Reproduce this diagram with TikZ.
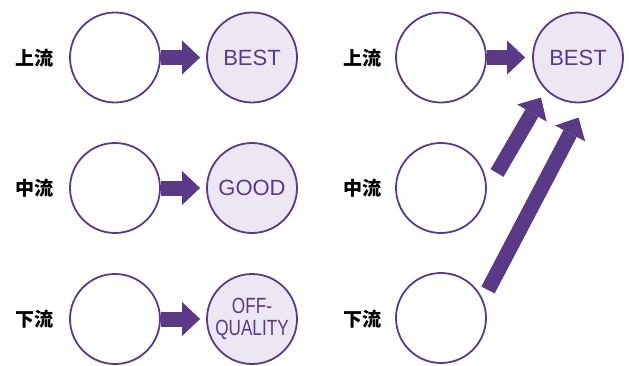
\documentclass[tikz,border=0pt]{standalone}
\usepackage{fontspec}
\setmainfont{Liberation Sans}
\newfontfamily\cjk{Noto Sans CJK JP}
\usetikzlibrary{arrows.meta,calc}
\definecolor{pur}{HTML}{5A3A87}
\definecolor{lav}{HTML}{ECE7F3}
\begin{document}
\begin{tikzpicture}[x=1pt,y=1pt,
  wcirc/.style={circle,draw=pur,line width=1.8pt,fill=white,minimum size=90pt,inner sep=0pt},
  rcirc/.style={circle,draw=pur,line width=1.8pt,fill=lav,minimum size=90pt,inner sep=0pt,text=pur,font=\fontsize{22}{22}\selectfont},
  lbl/.style={font=\cjk\bfseries\fontsize{19}{19}\selectfont,text=black},
  bigarrow/.style={draw=pur,line width=15pt,-{Triangle[width=34pt,length=18pt,line width=0pt]}}]
\useasboundingbox (0,0) rectangle (629,-365);
% left column
\node[lbl] (l1) at (35,-58) {上流};
\node[lbl] (l2) at (35,-188) {中流};
\node[lbl] (l3) at (35,-319) {下流};
\node[wcirc] (a1) at (115,-57.5) {};
\node[wcirc] (a2) at (115,-188) {};
\node[wcirc] (a3) at (115,-319) {};
\node[rcirc] (b1) at (252,-57.5) {BEST};
\node[rcirc] (b2) at (252,-188) {GOOD};
\node[rcirc,align=center,font=\fontsize{22}{22}\selectfont] (b3) at (252,-319) {\scalebox{0.78}[1]{OFF-}\\\scalebox{0.78}[1]{QUALITY}};
\draw[bigarrow,shorten >=6pt] (a1) -- (b1);
\draw[bigarrow,shorten >=6pt] (a2) -- (b2);
\draw[bigarrow,shorten >=6pt] (a3) -- (b3);
% right column
\node[lbl] (r1) at (362,-58) {上流};
\node[lbl] (r2) at (362,-188) {中流};
\node[lbl] (r3) at (362,-319) {下流};
\node[wcirc] (c1) at (441,-57.5) {};
\node[wcirc] (c2) at (441,-188) {};
\node[wcirc] (c3) at (441,-318) {};
\node[rcirc] (rb) at (578,-57.5) {BEST};
\draw[bigarrow,shorten >=7pt] (c1) -- (rb);
\coordinate (t1) at ($(c2.center)+(56,15)$);
\coordinate (h1) at ($(rb.center)+(-37,-40)$);
\coordinate (t2) at ($(c3.center)+(47,28)$);
\coordinate (h2) at ($(rb.center)+(0.5,-60)$);
\draw[bigarrow] (t1) -- (h1);
\draw[bigarrow] (t2) -- (h2);
\end{tikzpicture}
\end{document}
